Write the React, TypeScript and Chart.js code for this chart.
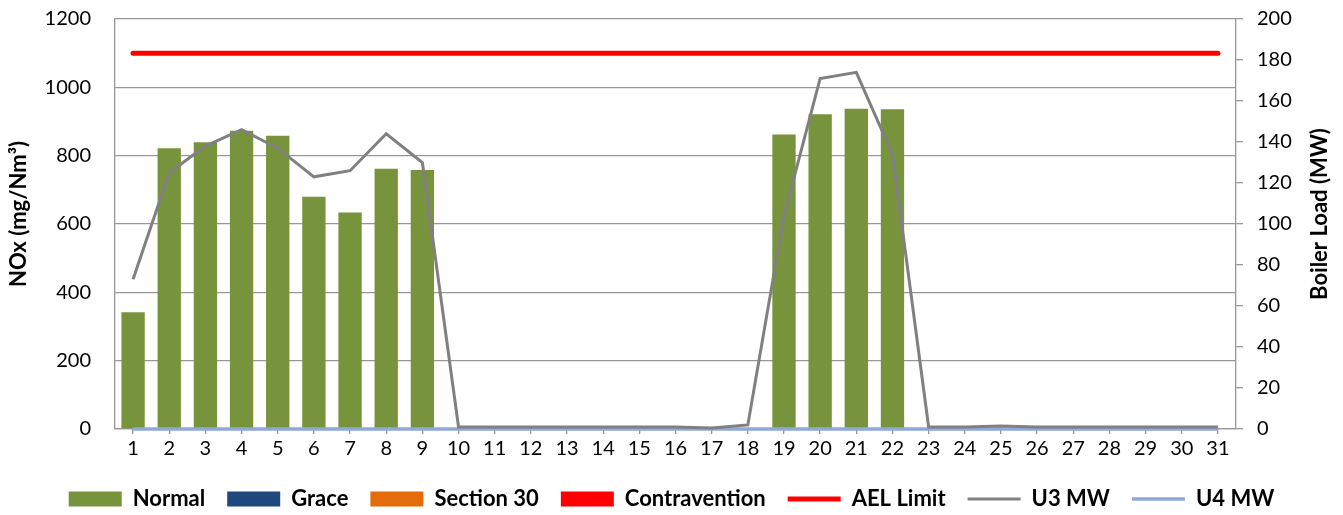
import { useEffect, useRef } from 'react';
import { Chart, registerables } from 'chart.js';

Chart.register(...registerables);

const days = ['1','2','3','4','5','6','7','8','9','10','11','12','13','14','15','16','17','18','19','20','21','22','23','24','25','26','27','28','29','30','31'];

const normal: (number | null)[] = [342, 822, 839, 873, 858, 680, 634, 762, 758, null, null, null, null, null, null, null, null, null, 862, 921, 937, 936, null, null, null, null, null, null, null, null, null];
const grace: (number | null)[] = [];
const section30: (number | null)[] = [];
const contravention: (number | null)[] = [];
const aelLimit = [1100, 1100, 1100, 1100, 1100, 1100, 1100, 1100, 1100, 1100, 1100, 1100, 1100, 1100, 1100, 1100, 1100, 1100, 1100, 1100, 1100, 1100, 1100, 1100, 1100, 1100, 1100, 1100, 1100, 1100, 1100];
const u3MW = [73, 125, 138, 146, 137, 123, 126, 144, 130, 1, 1, 1, 1, 1, 1, 1, 0.5, 2, 104, 171, 174, 134, 1, 1, 1.5, 1, 1, 1, 1, 1, 1];
const u4MW = [0, 0, 0, 0, 0, 0, 0, 0, 0, 0, 0, 0, 0, 0, 0, 0, 0, 0, 0, 0, 0, 0, 0, 0, 0, 0, 0, 0, 0, 0, 0];

const leftTitle = 'NOx (mg/Nm³)';
const rightTitle = 'Boiler Load (MW)';

const FONT = 'Lato';
const GRID = '#979797';

export default function App() {
  const ref = useRef<HTMLCanvasElement>(null);

  useEffect(() => {
    if (!ref.current) return;
    const titlesPlugin = {
      id: 'titlesPlugin',
      afterDraw(chart: any) {
        const { ctx, chartArea } = chart;
        const cy = (chartArea.top + chartArea.bottom) / 2 - 10;
        const draw = (text: string, x: number) => {
          ctx.save();
          ctx.translate(x, cy);
          ctx.rotate(-Math.PI / 2);
          ctx.font = `bold 22px ${FONT}`;
          ctx.fillStyle = '#000';
          ctx.textAlign = 'center';
          ctx.textBaseline = 'middle';
          ctx.fillText(text, 0, 0);
          ctx.restore();
        };
        draw(leftTitle, 19);
        draw(rightTitle, chart.width - 23);
      },
    };

    const chart = new Chart(ref.current, {
      type: 'bar',
      data: {
        labels: days,
        datasets: [
          { type: 'bar', label: 'Normal', data: normal, backgroundColor: '#77933C', grouped: false, order: 10, yAxisID: 'y', pointStyle: 'rect', barPercentage: 0.645, categoryPercentage: 1 } as any,
          { type: 'bar', label: 'Grace', data: grace, backgroundColor: '#1F497D', grouped: false, order: 11, yAxisID: 'y', pointStyle: 'rect', barPercentage: 0.645, categoryPercentage: 1 } as any,
          { type: 'bar', label: 'Section 30', data: section30, backgroundColor: '#E46C0A', grouped: false, order: 12, yAxisID: 'y', pointStyle: 'rect', barPercentage: 0.645, categoryPercentage: 1 } as any,
          { type: 'bar', label: 'Contravention', data: contravention, backgroundColor: '#FF0000', grouped: false, order: 13, yAxisID: 'y', pointStyle: 'rect', barPercentage: 0.645, categoryPercentage: 1 } as any,
          { type: 'line', label: 'AEL Limit', data: aelLimit, borderColor: '#FF0000', borderWidth: 5, borderCapStyle: 'round', pointRadius: 0, pointHoverRadius: 0, pointStyle: 'line', pointBorderColor: '#FF0000', pointBorderWidth: 5, yAxisID: 'y', order: 1, clip: false } as any,
          { type: 'line', label: 'U3 MW', data: u3MW, borderColor: '#808080', borderWidth: 3, pointRadius: 0, pointHoverRadius: 0, pointStyle: 'line', pointBorderColor: '#808080', pointBorderWidth: 3, yAxisID: 'y1', order: 2, clip: false } as any,
          { type: 'line', label: 'U4 MW', data: u4MW, borderColor: '#8EA9D8', borderWidth: 3.5, pointRadius: 0, pointHoverRadius: 0, pointStyle: 'line', pointBorderColor: '#8EA9D8', pointBorderWidth: 3.5, yAxisID: 'y1', order: 3, clip: false } as any,
        ],
      },
      options: {
        responsive: false,
        animation: false,
        devicePixelRatio: 1,
        layout: { padding: { left: 0, right: 0, top: 19, bottom: -5 } },
        font: { family: FONT },
        plugins: {
          tooltip: { enabled: false },
          legend: {
            position: 'bottom',
            labels: {
              usePointStyle: true,
              pointStyleWidth: 53,
              boxHeight: 15,
              padding: 22,
              color: '#000',
              font: { family: FONT, size: 22, weight: 'bold' },
              sort: (a: any, b: any) => a.datasetIndex - b.datasetIndex,
            },
          },
        },
        scales: {
          x: {
            offset: true,
            grid: { drawOnChartArea: false, offset: false, tickLength: 5, color: GRID, lineWidth: 1.3 },
            border: { color: GRID, width: 1.3 },
            ticks: { color: '#000', font: { family: FONT, size: 20 }, padding: 3, maxRotation: 0, autoSkip: false },
            afterFit: (s: any) => { s.height = 37; },
          },
          y: {
            position: 'left',
            min: 0,
            max: 1200,
            ticks: { stepSize: 200, color: '#000', font: { family: FONT, size: 20 }, padding: 24, callback: (v: any) => String(v) },
            grid: { color: GRID, lineWidth: 1.3, drawTicks: false },
            border: { color: GRID, width: 1.3 },
            afterFit: (s: any) => { s.width = 115; s.paddingTop = 10; s.paddingBottom = 10; },
          },
          y1: {
            position: 'right',
            min: 0,
            max: 200,
            ticks: { stepSize: 20, color: '#000', font: { family: FONT, size: 20 }, padding: 14, callback: (v: any) => String(v) },
            grid: { drawOnChartArea: false, tickLength: 7, color: GRID, lineWidth: 1.3 },
            border: { color: GRID, width: 1.3 },
            afterFit: (s: any) => { s.width = 107; s.paddingTop = 10; s.paddingBottom = 10; },
          },
        },
      } as any,
      plugins: [titlesPlugin],
    });
    return () => chart.destroy();
  }, []);

  return (
    <div style={{ position: 'fixed', left: 0, top: 0, width: 1343, height: 515, background: '#fff' }}>
      <canvas ref={ref} width={1343} height={515} style={{ width: 1343, height: 515, display: 'block' }} />
    </div>
  );
}
